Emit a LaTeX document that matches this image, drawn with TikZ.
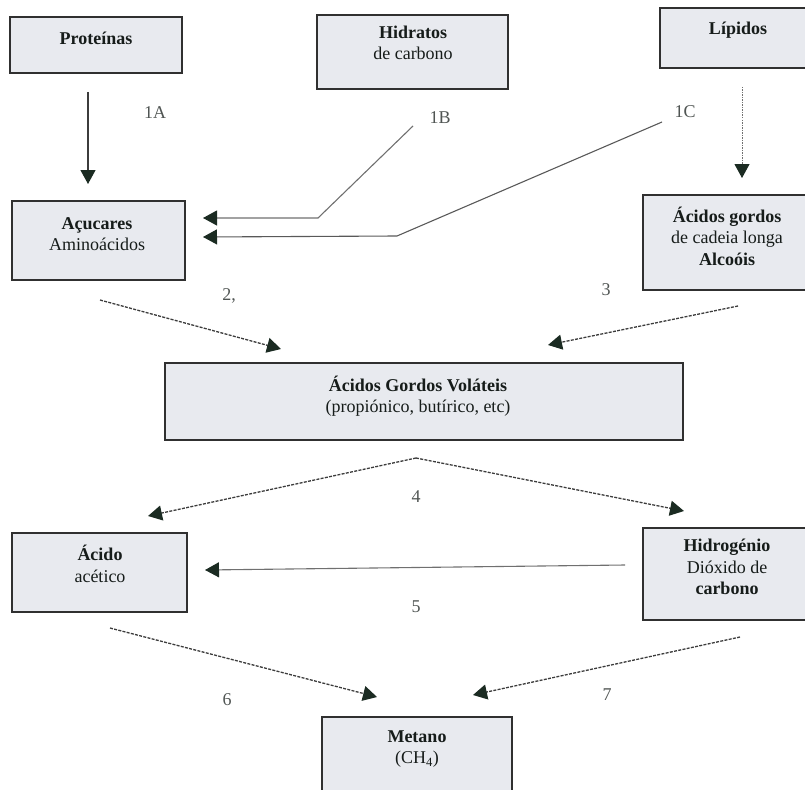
\documentclass[tikz,border=0pt]{standalone}
\usepackage{fontspec}
\setmainfont{Liberation Serif}
\usetikzlibrary{arrows.meta,calc}
\definecolor{boxfill}{HTML}{E8EAEF}
\definecolor{boxline}{HTML}{303030}
\definecolor{txtcol}{HTML}{161C1A}
\definecolor{tipcol}{HTML}{1B2B22}
\definecolor{lncol}{HTML}{3C3C3C}
\definecolor{grayln}{HTML}{707070}
\begin{document}
\begin{tikzpicture}[x=1pt,y=-1pt,
  box/.style={draw=boxline, fill=boxfill, line width=1.4pt, inner sep=0pt, rectangle},
  txt/.style={font=\fontsize{18}{21.5}\selectfont, align=center, text=txtcol, inner sep=0pt},
  lbl/.style={font=\fontsize{18}{21.5}\selectfont, text=txtcol!75, inner sep=0pt},
  tip/.style={-{Triangle[length=14pt,width=15pt,fill=tipcol,color=tipcol]}},
  solidarr/.style={tip, draw=lncol, line width=1.2pt},
  grayarr/.style={tip, draw=grayln, line width=1.1pt},
  dotarr/.style={tip, draw=grayln, line width=1pt, dash pattern=on 1.5pt off 1pt},
  dasharr/.style={tip, draw=lncol, line width=1.3pt, dash pattern=on 3pt off 1.3pt}
]
\useasboundingbox (0,0) rectangle (805,789);
\clip (0,0) rectangle (805,789);

% boxes
\node[box, minimum width=172pt, minimum height=56pt] (prot) at (96,45) {};
\node[box, minimum width=191pt, minimum height=74pt] (hidr) at (412.5,52) {};
\node[box, minimum width=155pt, minimum height=60pt] (lip) at (737.5,38) {};
\node[box, minimum width=173pt, minimum height=79pt] (acuc) at (98.5,240.5) {};
\node[box, minimum width=172pt, minimum height=95pt] (agl) at (729,242.5) {};
\node[box, minimum width=518pt, minimum height=77pt] (agv) at (424,401.5) {};
\node[box, minimum width=175pt, minimum height=79pt] (acet) at (99.5,572.5) {};
\node[box, minimum width=172pt, minimum height=92pt] (hidrog) at (729,574) {};
\node[box, minimum width=190pt, minimum height=83pt] (metano) at (417,758.5) {};

% texts
\node[txt] (tprot) at (96,38) {\textbf{Proteínas}};
\node[txt] (thidr) at (413,43) {\textbf{Hidratos}\\de carbono};
\node[txt] (tlip) at (738,30) {\textbf{Lípidos}};
\node[txt] (tacuc) at (97,234) {\textbf{Açucares}\\Aminoácidos};
\node[txt] (tagl) at (727,236) {\textbf{Ácidos gordos}\\de cadeia longa\\\textbf{Alcoóis}};
\node[txt] (tagv) at (418,396) {\textbf{Ácidos Gordos Voláteis}\\(propiónico, butírico, etc)};
\node[txt] (tacet) at (100,564) {\textbf{Ácido}\\acético};
\node[txt] (thidrog) at (727,567) {\textbf{Hidrogénio}\\Dióxido de\\\textbf{carbono}};
\node[txt] (tmetano) at (417,749) {\textbf{Metano}\\(CH\textsubscript{4})};

% step labels
\node[lbl] (l1a) at (155,113) {1A};
\node[lbl] (l1b) at (440,118) {1B};
\node[lbl] (l1c) at (685,112) {1C};
\node[lbl] (l2) at (229,296) {2,};
\node[lbl] (l3) at (606,290) {3};
\node[lbl] (l4) at (416,497) {4};
\node[lbl] (l5) at (416,607) {5};
\node[lbl] (l6) at (227,700) {6};
\node[lbl] (l7) at (607,695) {7};

% connector end points
\coordinate (a1s) at (88,92);   \coordinate (a1e) at (88,184);
\coordinate (bs) at (413,126);  \coordinate (bm) at (318,218);  \coordinate (be) at (203,218);
\coordinate (cs) at (662,122);  \coordinate (cm) at (397,236);  \coordinate (ce) at (203,237);
\coordinate (ls) at (742,87);   \coordinate (le) at (742,178);
\coordinate (s2) at (100,300);  \coordinate (e2) at (281,349);
\coordinate (s3) at (738,306);  \coordinate (e3) at (548,345);
\coordinate (ap) at (416,458);
\coordinate (e4l) at (148,516); \coordinate (e4r) at (684,511);
\coordinate (s5) at (625,565);  \coordinate (e5) at (205,570);
\coordinate (s6) at (110,628);  \coordinate (e6) at (377,697);
\coordinate (s7) at (740,637);  \coordinate (e7) at (473,695);

% connectors
\draw[solidarr] (a1s) -- (a1e);
\draw[grayarr] (bs) -- (bm) -- (be);
\draw[grayarr, draw=lncol!85] (cs) -- (cm) -- (ce);
\draw[dotarr] (ls) -- (le);
\draw[dasharr] (s2) -- (e2);
\draw[dasharr] (s3) -- (e3);
\draw[dasharr] (ap) -- (e4l);
\draw[dasharr] (ap) -- (e4r);
\draw[grayarr] (s5) -- (e5);
\draw[dasharr] (s6) -- (e6);
\draw[dasharr] (s7) -- (e7);
\end{tikzpicture}
\end{document}
